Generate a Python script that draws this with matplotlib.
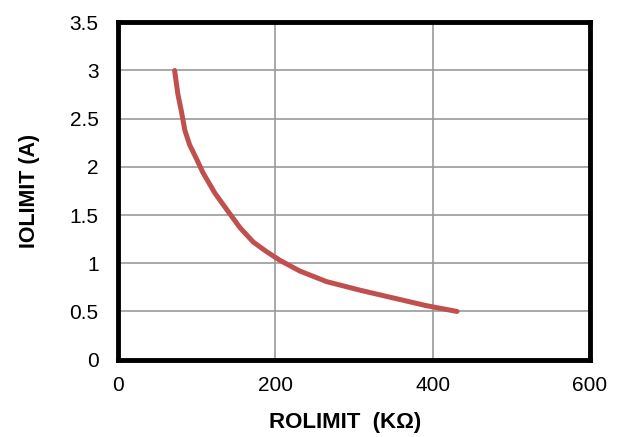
import matplotlib
matplotlib.use("Agg")
import matplotlib.pyplot as plt

# curve
rolimit = [72, 76, 81, 85, 91, 100, 108, 123, 138, 155, 172, 189, 206, 231, 265, 308, 350, 392, 431]
iolimit = [3.0, 2.76, 2.56, 2.38, 2.23, 2.08, 1.94, 1.73, 1.56, 1.37, 1.22, 1.12, 1.03, 0.92, 0.81,
           0.72, 0.64, 0.56, 0.50]

x_ticks = [0, 200, 400, 600]
y_ticks = [0, 0.5, 1, 1.5, 2, 2.5, 3, 3.5]
y_tick_labels = ["0", "0.5", "1", "1.5", "2", "2.5", "3", "3.5"]

plt.rcParams['font.family'] = ['Liberation Sans', 'DejaVu Sans']

fig = plt.figure(figsize=(6.21, 4.37), dpi=100)
ax = fig.add_axes([0.19, 0.177, 0.76, 0.772])

ax.plot(rolimit, iolimit, color='#C0504D', lw=3.6, solid_capstyle='round',
        solid_joinstyle='round', zorder=3)

ax.set_xlim(0, 600)
ax.set_ylim(0, 3.5)
ax.set_xticks(x_ticks)
ax.set_yticks(y_ticks)
ax.set_yticklabels(y_tick_labels)
ax.grid(color='#999999', lw=1.2)
ax.set_axisbelow(True)

for s in ax.spines.values():
    s.set_linewidth(3.5)
    s.set_color('black')

ax.tick_params(length=0, labelsize=15, pad=14)
ax.tick_params(axis='x', pad=12)

ax.set_xlabel("ROLIMIT  (KΩ)", fontsize=16, fontweight='bold', labelpad=12)
ax.xaxis.label.set_x(0.482)
ax.set_ylabel("IOLIMIT (A)", fontsize=15.5, fontweight='bold', labelpad=21)

fig.savefig("out.png", dpi=100)
